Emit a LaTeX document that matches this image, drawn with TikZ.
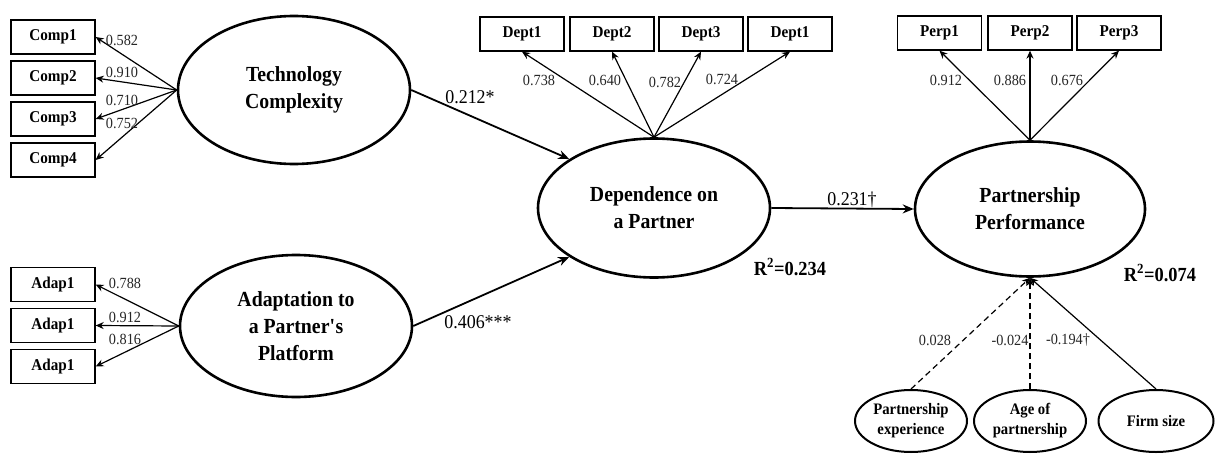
\documentclass[tikz,border=0pt]{standalone}
\usepackage{fontspec}
\setmainfont{Liberation Serif}[FakeStretch=0.92]
\usetikzlibrary{arrows.meta,shapes.geometric}

\tikzset{
  latent/.style={draw, ellipse, line width=2.6pt, minimum width=232pt, minimum height=140pt,
    inner sep=0pt, align=center, font=\fontsize{21.5}{27}\selectfont\bfseries},
  indic/.style={draw, rectangle, line width=1.3pt, minimum width=84pt, minimum height=34pt,
    inner sep=0pt, font=\fontsize{16.5}{17}\selectfont\bfseries},
  ctrl/.style={draw, ellipse, line width=2pt, minimum width=112pt, minimum height=62pt,
    inner sep=0pt, align=center, font=\fontsize{16}{20}\selectfont\bfseries},
  load/.style={-{Stealth[length=8pt,width=7pt]}, line width=1.2pt},
  regr/.style={-{Stealth[length=11pt,width=9pt]}, line width=1.8pt},
  wt/.style={font=\fontsize{15.5}{16}\selectfont, text=black!85, inner sep=1pt},
  coef/.style={font=\fontsize{19.5}{20}\selectfont, inner sep=1pt},
  rsq/.style={font=\fontsize{20}{20}\selectfont\bfseries, inner sep=1pt}
}

\begin{document}
\begin{tikzpicture}[x=1pt,y=-1pt]
  \useasboundingbox (0,0) rectangle (1215,455);

  % latent constructs
  \node[latent, minimum height=148pt] (tech) at (294,90) {Technology\\Complexity};
  \node[latent, minimum height=142pt] (adap) at (296,326) {Adaptation to\\a Partner\textquotesingle s\\Platform};
  \node[latent, minimum height=139pt] (dep) at (654,208) {Dependence on\\a Partner};
  \node[latent, minimum width=230pt, minimum height=135pt] (perf) at (1030,209) {Partnership\\Performance};

  % indicators of technology complexity
  \foreach \i/\y in {1/37,2/78,3/119,4/160} {
    \node[indic] (comp\i) at (53,\y) {Comp\i};
    \draw[load] (tech.west) -- (comp\i.east);
  }
  \foreach \i/\v/\y in {1/0.582/40,2/0.910/72,3/0.710/100,4/0.752/123}
    \node[wt] (wc\i) at (122,\y) {\v};

  % indicators of adaptation
  \foreach \i/\y in {1/284.5,2/325.5,3/366.5} {
    \node[indic] (adap\i) at (53,\y) {Adap1};
    \draw[load] (adap.west) -- (adap\i.east);
  }
  \foreach \i/\v/\y in {1/0.788/283,2/0.912/317,3/0.816/339}
    \node[wt] (wa\i) at (125,\y) {\v};

  % indicators of dependence
  \foreach \i/\x/\t in {1/522/Dept1,2/612/Dept2,3/701/Dept3,4/790/Dept1} {
    \node[indic] (dept\i) at (\x,34) {\t};
    \draw[load] (dep.north) -- (dept\i.south);
  }
  \foreach \i/\v/\x/\y in {1/0.738/539/80,2/0.640/605/80,3/0.782/665/82,4/0.724/722/79}
    \node[wt] (wd\i) at (\x,\y) {\v};

  % indicators of performance
  \foreach \i/\x in {1/939.5,2/1030,3/1119} {
    \node[indic] (perp\i) at (\x,33) {Perp\i};
    \draw[load] (perf.north) -- (perp\i.south);
  }
  \foreach \i/\v/\x in {1/0.912/946,2/0.886/1010,3/0.676/1067}
    \node[wt] (wp\i) at (\x,80) {\v};

  % structural paths
  \draw[regr] (tech.east) -- (dep.150);
  \draw[regr] (adap.east) -- (dep.210);
  \draw[regr] (dep.east) -- (perf.west);
  \node[coef] (b1) at (470,97) {0.212*};
  \node[coef] (b2) at (478,322) {0.406***};
  \node[coef] (b3) at (852,200) {0.231\textdagger};
  \node[rsq] (r1) at (790,267) {R\textsuperscript{2}=0.234};
  \node[rsq] (r2) at (1160,273) {R\textsuperscript{2}=0.074};

  % control variables
  \node[ctrl] (exp) at (911,421) {Partnership\\experience};
  \node[ctrl] (age) at (1030,421) {Age of\\partnership};
  \node[ctrl, minimum width=115pt] (firm) at (1156,421) {Firm size};
  \draw[load, dashed, dash pattern=on 6pt off 4pt] (exp.north) -- (perf.south);
  \draw[load, dashed, dash pattern=on 6pt off 4pt] (age.north) -- (perf.south);
  \draw[load] (firm.north) -- (perf.south);
  \node[wt] (wx1) at (935,340) {0.028};
  \node[wt] (wx2) at (1010,340) {-0.024};
  \node[wt] (wx3) at (1068,340) {-0.194\textdagger};
\end{tikzpicture}
\end{document}
